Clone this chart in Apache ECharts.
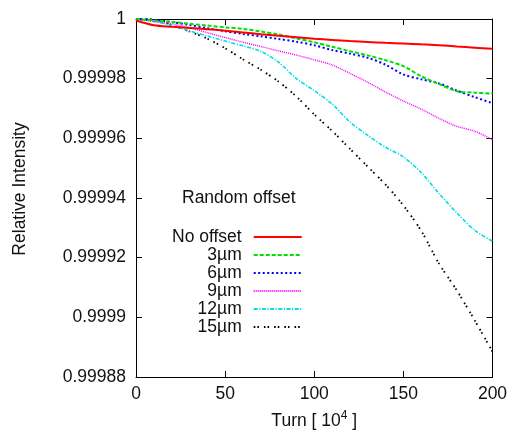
<!DOCTYPE html>
<html>
<head>
<meta charset="utf-8">
<script src="https://cdn.jsdelivr.net/npm/echarts@6/dist/echarts.min.js"></script>
<style>html,body{margin:0;padding:0;background:#fff}#c{width:511px;height:432px}</style>
</head>
<body>
<div id="c"></div>
<script>
var turns = [0,10,20,30,40,50,60,70,80,90,100,110,120,130,140,150,160,170,180,190,200];
var seriesNames = ['No offset','3\u00b5m','6\u00b5m','9\u00b5m','12\u00b5m','15\u00b5m'];
var noOffset = [0.9999995,0.9999979,0.9999974,0.9999970,0.9999966,0.9999961,0.9999955,0.9999949,0.9999944,0.9999939,0.9999934,0.9999930,0.9999926,0.9999923,0.9999920,0.9999918,0.9999915,0.9999912,0.9999908,0.9999904,0.9999900];
var off3 = [1.0000000,0.9999995,0.9999990,0.9999984,0.9999978,0.9999972,0.9999967,0.9999958,0.9999948,0.9999935,0.9999922,0.9999907,0.9999892,0.9999878,0.9999862,0.9999842,0.9999808,0.9999782,0.9999758,0.9999753,0.9999750];
var off6 = [1.0000000,0.9999997,0.9999990,0.9999980,0.9999969,0.9999959,0.9999950,0.9999942,0.9999933,0.9999924,0.9999912,0.9999896,0.9999884,0.9999870,0.9999847,0.9999814,0.9999798,0.9999784,0.9999760,0.9999738,0.9999718];
var off9 = [1.0000000,0.9999992,0.9999984,0.9999971,0.9999954,0.9999938,0.9999922,0.9999908,0.9999893,0.9999879,0.9999863,0.9999846,0.9999818,0.9999788,0.9999755,0.9999725,0.9999698,0.9999667,0.9999640,0.9999624,0.9999595];
var off12 = [1.0000000,0.9999992,0.9999978,0.9999960,0.9999943,0.9999926,0.9999910,0.9999892,0.9999855,0.9999800,0.9999760,0.9999715,0.9999655,0.9999610,0.9999570,0.9999538,0.9999485,0.9999415,0.9999350,0.9999292,0.9999255];
var off15 = [1.0000000,0.9999998,0.9999980,0.9999958,0.9999934,0.9999902,0.9999865,0.9999830,0.9999790,0.9999740,0.9999680,0.9999625,0.9999565,0.9999505,0.9999445,0.9999375,0.9999290,0.9999180,0.9999090,0.9998990,0.9998885];
var xTicks = [0,50,100,150,200];
var yTicks = [0.99988,0.9999,0.99992,0.99994,0.99996,0.99998,1];

var FONT = 'Liberation Sans, Arial, sans-serif';
var FS = 17.5;
function pairs(vals){ return turns.map(function(t,i){ return [t, vals[i]]; }); }
var allVals = [noOffset, off3, off6, off9, off12, off15];
var styles = [
  {color:'#ff0000', width:2, type:'solid'},
  {color:'#00e000', width:2, type:[4,2]},
  {color:'#0000ff', width:2, type:[2,2.5]},
  {color:'#ff00ff', width:1.5, type:[1,1]},
  {color:'#00e0e0', width:1.6, type:[4,1.5,1.2,1.5]},
  {color:'#000000', width:1.8, type:[1.6,2,1.6,5]}
];
var series = allVals.map(function(v,i){
  return {
    name: seriesNames[i], type:'line', data: pairs(v), symbol:'none', smooth:0.3,
    lineStyle: styles[i], itemStyle:{color:styles[i].color}, z: 10-i
  };
});

var chart = echarts.init(document.getElementById('c'), null, {renderer:'canvas'});
var axisCommon = {
  axisLine:{show:true, onZero:false, lineStyle:{color:'#000', width:1}},
  axisTick:{show:true, inside:true, length:6, lineStyle:{color:'#000', width:1}},
  splitLine:{show:false}
};
chart.setOption({
  animation:false,
  backgroundColor:'#fff',
  grid:{left:136, right:18.5, top:19, bottom:55, containLabel:false, outerBoundsMode:'none'},
  title:{text:'Random offset', left:182, top:189, padding:0,
    textStyle:{fontFamily:FONT, fontSize:FS, fontWeight:'normal', color:'#111'}},
  legend:{
    orient:'vertical', left:172, top:228, padding:0, align:'right', itemGap:0,
    itemWidth:48, itemHeight:10, selectedMode:false, data: seriesNames,
    itemStyle:{opacity:0, color:'transparent', borderWidth:0},
    textStyle:{fontFamily:FONT, fontSize:FS, color:'#111', lineHeight:18, padding:[0,7,0,0]}
  },
  xAxis:[
    Object.assign({type:'value', min:0, max:200, interval:50, position:'bottom',
      name:'Turn [ 10{sup|4} ]', nameLocation:'middle', nameGap:33,
      nameTextStyle:{fontFamily:FONT, fontSize:FS, color:'#111', lineHeight:22,
        rich:{sup:{fontFamily:FONT, fontSize:12, color:'#111', verticalAlign:'top', lineHeight:22}}},
      axisLabel:{fontFamily:FONT, fontSize:FS, color:'#111', margin:8,
        formatter:function(v){ return String(v); }}}, axisCommon),
    Object.assign({type:'value', min:0, max:200, interval:50, position:'top',
      axisLabel:{show:false}}, axisCommon)
  ],
  yAxis:[
    Object.assign({type:'value', min:0.99988, max:1, interval:0.00002, position:'left',
      axisLabel:{fontFamily:FONT, fontSize:FS, color:'#111', margin:10,
        formatter:function(v){ return String(+v.toFixed(5)); }}}, axisCommon),
    Object.assign({type:'value', min:0.99988, max:1, interval:0.00002, position:'right',
      axisLabel:{show:false}}, axisCommon)
  ],
  graphic:[{type:'text', x:20, y:189, rotation:Math.PI/2,
    style:{text:'Relative Intensity', font:FS+'px '+FONT, fill:'#111', align:'center', verticalAlign:'middle'}}],
  series: series
});
</script>
</body>
</html>
